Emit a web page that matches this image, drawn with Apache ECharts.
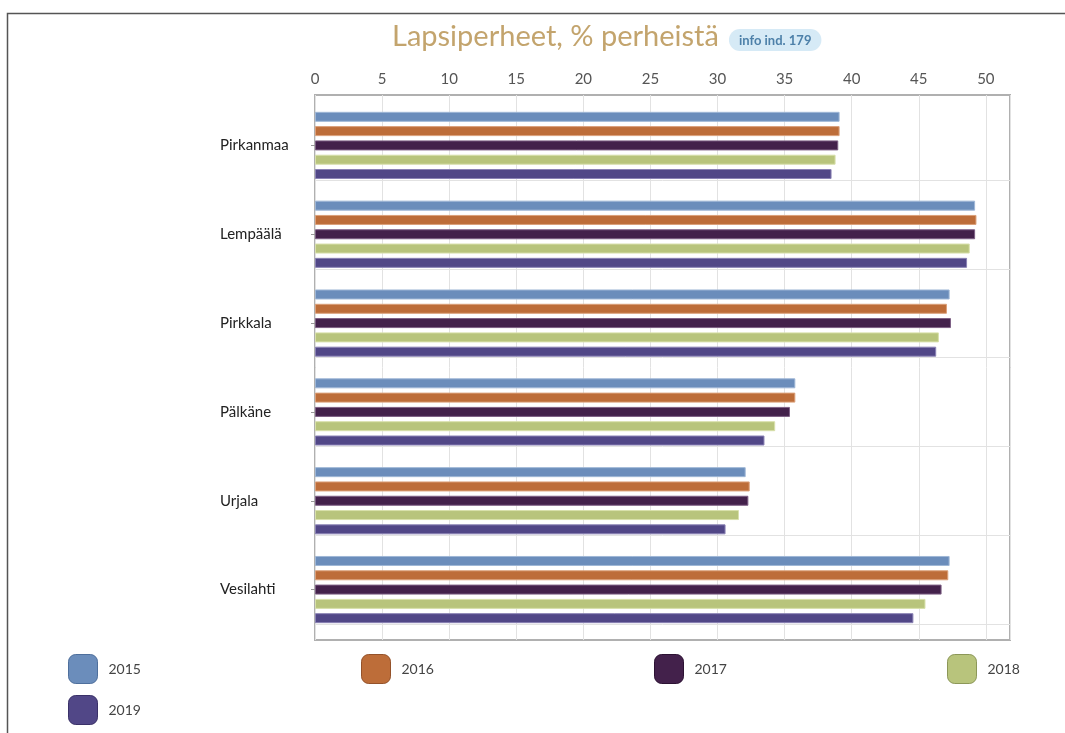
<!DOCTYPE html>
<html>
<head>
<meta charset="utf-8">
<script src="https://cdn.jsdelivr.net/npm/echarts@6/dist/echarts.min.js"></script>
<style>
html,body{margin:0;padding:0;background:#fff;}
#c{width:1065px;height:733px;}
</style>
</head>
<body>
<div id="c"></div>
<script>
const categories = ['Pirkanmaa', 'Lempäälä', 'Pirkkala', 'Pälkäne', 'Urjala', 'Vesilahti'];
const years = ['2015', '2016', '2017', '2018', '2019'];
const xTicks = [0, 5, 10, 15, 20, 25, 30, 35, 40, 45, 50];
const v2015 = [39.1, 49.2, 47.3, 35.8, 32.1, 47.3];
const v2016 = [39.1, 49.3, 47.1, 35.8, 32.4, 47.2];
const v2017 = [39.0, 49.2, 47.4, 35.4, 32.3, 46.7];
const v2018 = [38.8, 48.8, 46.5, 34.3, 31.6, 45.5];
const v2019 = [38.5, 48.6, 46.3, 33.5, 30.6, 44.6];

const colors = ['#6b8dbb', '#bd6d39', '#43214b', '#b8c47c', '#514787'];
const edge = ['#9fb7d6', '#dba07a', '#7d5f84', '#d8e0ab', '#8a82b4'];
const legendBorder = ['#4e6f9c', '#94522a', '#2c1233', '#8c9758', '#3a3168'];
const values = [v2015, v2016, v2017, v2018, v2019];
const FONT = 'Lato, "Open Sans", sans-serif';
const XMAX = 51.8;

const chart = echarts.init(document.getElementById('c'), null, {renderer: 'canvas'});

const legendPos = [[68, 654], [361, 654], [654, 654], [947, 654], [68, 695]];

const option = {
  backgroundColor: '#fff',
  animation: false,
  title: {
    left: 392, top: 22, padding: 0,
    text: '{t|Lapsiperheet, % perheistä}{s|}{b|info ind. 179}',
    textStyle: {
      fontWeight: 'normal',
      rich: {
        t: {fontFamily: FONT, fontSize: 29, fontWeight: 'normal', color: '#c3a46d', verticalAlign: 'bottom'},
        s: {width: 10},
        b: {fontFamily: FONT, fontSize: 13, fontWeight: 'bold', color: '#4d80a9', verticalAlign: 'bottom',
            backgroundColor: '#d6eaf6', borderRadius: 11, padding: [5, 10, 4, 10]}
      }
    }
  },
  graphic: [{
    type: 'rect', left: 5, top: 11, silent: true,
    shape: {width: 1200, height: 900},
    style: {fill: 'none', stroke: '#555', lineWidth: 1.5}
  }],
  legend: years.map((y, i) => ({
    left: legendPos[i][0], top: legendPos[i][1], padding: 0,
    data: [{name: y, itemStyle: {borderColor: legendBorder[i], borderWidth: 1}}],
    icon: 'roundRect', itemWidth: 29, itemHeight: 29,
    selectedMode: false,
    textStyle: {fontFamily: FONT, fontSize: 14, color: '#444', padding: [0, 0, 0, 6]}
  })),
  grid: [
    {left: 315, top: 95, width: 695, height: 545, show: true, borderColor: '#b0b0b0', borderWidth: 2, backgroundColor: 'transparent'},
    {left: 315, top: 101, width: 695, height: 533},
    {left: 315, top: 180, width: 695, height: 444}
  ],
  xAxis: [
    {gridIndex: 0, type: 'value', position: 'top', min: 0, max: XMAX, interval: 5,
     axisLine: {show: false}, axisTick: {show: false},
     splitLine: {show: true, lineStyle: {color: '#e2e2e2', width: 1}},
     axisLabel: {fontFamily: FONT, fontSize: 15, color: '#555', margin: 8,
       formatter: v => (xTicks.indexOf(v) >= 0 ? String(v) : '')}},
    {gridIndex: 1, type: 'value', min: 0, max: XMAX, show: false},
    {gridIndex: 2, type: 'value', min: 0, max: 1, show: false}
  ],
  yAxis: [
    {gridIndex: 0, type: 'value', min: 0, max: 1, show: false},
    {gridIndex: 1, type: 'category', data: categories, inverse: true,
     axisLine: {show: false},
     axisTick: {show: true, alignWithLabel: true, length: 4, lineStyle: {color: '#999'}},
     splitLine: {show: false},
     axisLabel: {fontFamily: FONT, fontSize: 15, color: '#222', align: 'left', margin: 95}},
    {gridIndex: 2, type: 'category', data: ['1', '2', '3', '4', '5', '6'], boundaryGap: false,
     axisLine: {show: false}, axisTick: {show: false}, axisLabel: {show: false},
     splitLine: {show: true, lineStyle: {color: '#e2e2e2', width: 1}}}
  ],
  series: years.map((y, i) => ({
    name: y, type: 'bar', xAxisIndex: 1, yAxisIndex: 1,
    data: values[i], barWidth: 10, barGap: '43%',
    itemStyle: {color: colors[i], borderColor: edge[i], borderWidth: 1},
    emphasis: {disabled: true}
  }))
};
chart.setOption(option);
</script>
</body>
</html>
